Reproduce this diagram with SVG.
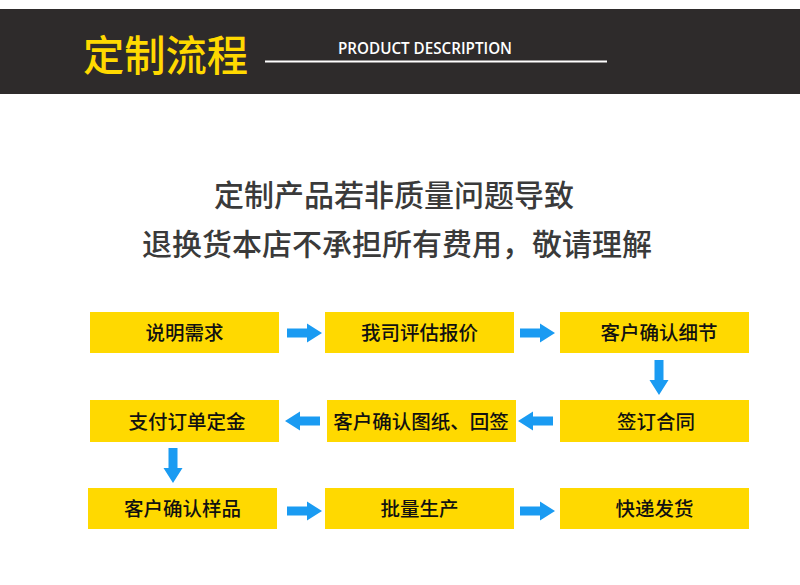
<svg xmlns="http://www.w3.org/2000/svg" xmlns:xlink="http://www.w3.org/1999/xlink" width="800" height="585" viewBox="0 0 800 585">
<style>
.box{fill:#FFD900}
.bt{font-family:"Noto Sans CJK SC","Noto Sans",sans-serif;font-size:19.5px;font-weight:500;fill:#111;text-anchor:middle}
.sub{font-family:"Noto Sans CJK SC","Noto Sans",sans-serif;font-size:30px;font-weight:500;fill:#3a3a3a;text-anchor:middle}
.arr{fill:#1A9BF2}
</style>
<defs>
<path id="arrow" class="arr" d="M0,-4.5 H20 V-9.5 L35,0 L20,9.5 V4.5 H0 Z"/>
</defs>
<rect x="0" y="0" width="800" height="585" fill="#ffffff"/>
<g id="header">
<rect x="0" y="9" width="800" height="85" fill="#2E2B2B"/>
<text x="83" y="71" font-family="'Noto Sans CJK SC',sans-serif" font-size="42" font-weight="500" fill="#FFD900" textLength="165" lengthAdjust="spacingAndGlyphs">定制流程</text>
<text x="338" y="54" font-family="'Open Sans','Liberation Sans',Arial,sans-serif" font-size="15.5" font-weight="600" fill="#ffffff" textLength="174" lengthAdjust="spacingAndGlyphs">PRODUCT DESCRIPTION</text>
<line x1="265" y1="61.5" x2="607" y2="61.5" stroke="#ffffff" stroke-width="2"/>
</g>
<g id="notice">
<text class="sub" x="394" y="206">定制产品若非质量问题导致</text>
<text class="sub" x="397" y="255">退换货本店不承担所有费用，敬请理解</text>
</g>
<g id="connectors">
<use xlink:href="#arrow" href="#arrow" transform="translate(287,333)"/>
<use xlink:href="#arrow" href="#arrow" transform="translate(520,333)"/>
<use xlink:href="#arrow" href="#arrow" transform="translate(659,360) rotate(90)"/>
<use xlink:href="#arrow" href="#arrow" transform="translate(553,421) rotate(180)"/>
<use xlink:href="#arrow" href="#arrow" transform="translate(320,421) rotate(180)"/>
<use xlink:href="#arrow" href="#arrow" transform="translate(173,448) rotate(90)"/>
<use xlink:href="#arrow" href="#arrow" transform="translate(287,511)"/>
<use xlink:href="#arrow" href="#arrow" transform="translate(520,511)"/>
</g>
<g id="n1"><rect class="box" x="90" y="312" width="189" height="41"/><text class="bt" x="184.5" y="340">说明需求</text></g>
<g id="n2"><rect class="box" x="325" y="312" width="189" height="41"/><text class="bt" x="419.5" y="340">我司评估报价</text></g>
<g id="n3"><rect class="box" x="560" y="312" width="189" height="41"/><text class="bt" x="659" y="340">客户确认细节</text></g>
<g id="n4"><rect class="box" x="560" y="400" width="189" height="42"/><text class="bt" x="656" y="428.5">签订合同</text></g>
<g id="n5"><rect class="box" x="327" y="400" width="189" height="42"/><text class="bt" x="421" y="428.5">客户确认图纸、回签</text></g>
<g id="n6"><rect class="box" x="90" y="400" width="189" height="42"/><text class="bt" x="187" y="428.5">支付订单定金</text></g>
<g id="n7"><rect class="box" x="88" y="488" width="189" height="41"/><text class="bt" x="182.5" y="516">客户确认样品</text></g>
<g id="n8"><rect class="box" x="325" y="488" width="189" height="41"/><text class="bt" x="419.5" y="516">批量生产</text></g>
<g id="n9"><rect class="box" x="560" y="488" width="189" height="41"/><text class="bt" x="654.5" y="516">快递发货</text></g>
</svg>
